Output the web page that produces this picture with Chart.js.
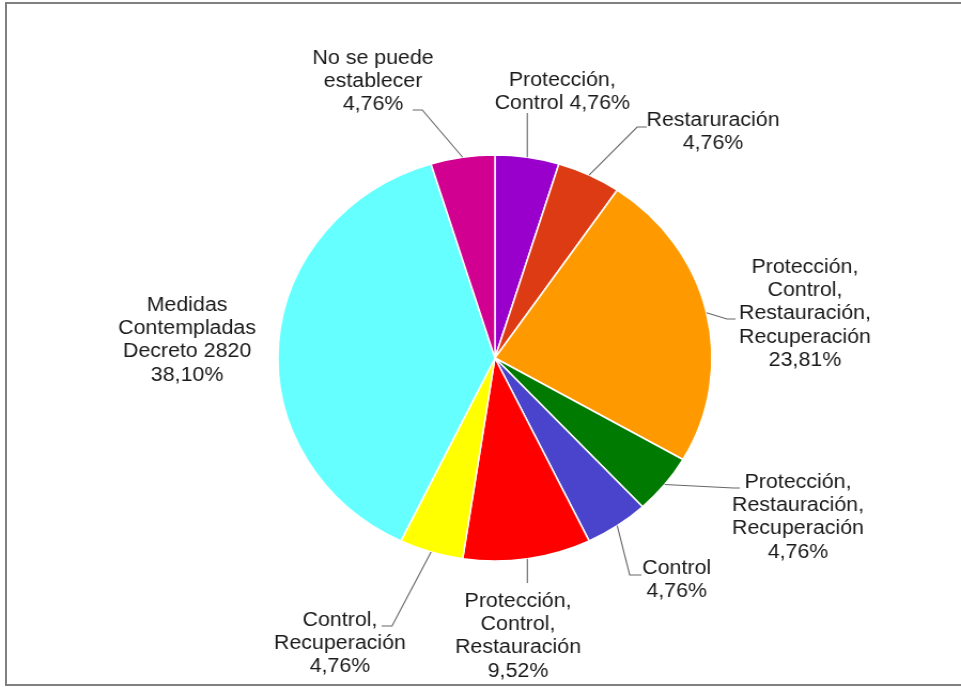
<!DOCTYPE html>
<html>
<head>
<meta charset="utf-8">
<script src="https://cdn.jsdelivr.net/npm/chart.js@4"></script>
<style>
html,body{margin:0;padding:0;background:#fff;overflow:hidden;width:961px;height:687px;}
#marco{position:absolute;left:5px;top:2px;width:1100px;height:684px;box-sizing:border-box;border:2px solid #808080;}
#grafico{position:absolute;left:0;top:0;transform:scaleX(1.069);transform-origin:0 0;}
</style>
</head>
<body>
<div id="marco"></div>
<canvas id="grafico" width="899" height="687"></canvas>
<script>
// ================= DATOS =================
const categorias = [
"Protección,\nControl",
"Restaruración",
"Protección,\nControl,\nRestauración,\nRecuperación",
"Protección,\nRestauración,\nRecuperación",
"Control",
"Protección,\nControl,\nRestauración",
"Control,\nRecuperación",
"Medidas\nContempladas\nDecreto 2820",
"No se puede\nestablecer"
];
const porcentajes = [4.76, 4.76, 23.81, 4.76, 4.76, 9.52, 4.76, 38.10, 4.76];
const colores = ["#9900CC","#DD3B14","#FF9900","#007A00","#4A44CC","#FF0000","#FFFF00","#66FFFF","#D10090"];

// posicion de cada etiqueta y quiebres de su linea guia (null = misma x del borde)
const posEtiquetas = [
{x:526, y:80, inline:true, guia:[[null,113]]},
{x:667, y:120, guia:[[596,127],[605,127]]},
{x:753, y:267, guia:[[680,319],[688,319]]},
{x:746.5, y:482, guia:[[686,488],[692,488]]},
{x:633, y:568, guia:[[589,575],[600,575]]},
{x:484.6, y:601, guia:[[null,583]]},
{x:318, y:620, guia:[[366.7,626],[357,626]]},
{x:175, y:305, guia:null},
{x:349, y:58, guia:[[395,110],[386,110]]}
];

function formatoPct(v){
return v.toFixed(2).replace(".", ",") + "%";
}

// ================= ETIQUETAS EXTERNAS =================
const etiquetasExternas = {
id:"etiquetasExternas",
afterDatasetsDraw(chart, args, opts){
const ctx = chart.ctx;
const arcs = chart.getDatasetMeta(0).data;
const valores = chart.data.datasets[0].data;
ctx.save();
ctx.font = opts.font;
ctx.fillStyle = opts.color;
ctx.strokeStyle = opts.lineColor;
ctx.lineWidth = 1.1;
ctx.textAlign = "center";
ctx.textBaseline = "middle";

arcs.forEach((arc, i) => {
let pos = posEtiquetas[i];
let p = arc.getProps(["x","y","startAngle","endAngle","outerRadius"], true);
let medio = (p.startAngle + p.endAngle) / 2;
let x0 = p.x + Math.cos(medio) * p.outerRadius;
let y0 = p.y + Math.sin(medio) * p.outerRadius;

if(pos.guia){
ctx.beginPath();
ctx.moveTo(x0, y0);
pos.guia.forEach(q => ctx.lineTo(q[0] === null ? x0 : q[0], q[1]));
ctx.stroke();
}

let lineas = chart.data.labels[i].split("\n");
let pct = formatoPct(valores[i]);
if(pos.inline) lineas[lineas.length-1] += " " + pct;
else lineas.push(pct);

lineas.forEach((t, k) => ctx.fillText(t, pos.x, pos.y + k * opts.lineHeight));
});
ctx.restore();
}
};

// ================= GRAFICO =================
new Chart(document.getElementById("grafico"), {
type:"pie",
data:{
labels:categorias,
datasets:[{
data:porcentajes,
backgroundColor:colores,
borderColor:"#ffffff",
borderWidth:1.5
}]
},
options:{
responsive:false,
animation:false,
devicePixelRatio:1,
radius:203,
layout:{padding:{left:260, right:233, top:152, bottom:123}},
plugins:{
legend:{display:false},
tooltip:{enabled:false},
etiquetasExternas:{
font:"20px 'Liberation Sans', Arial, sans-serif",
color:"#1a1a1a",
lineColor:"#666666",
lineHeight:23.4
}
}
},
plugins:[etiquetasExternas]
});
</script>
</body>
</html>
